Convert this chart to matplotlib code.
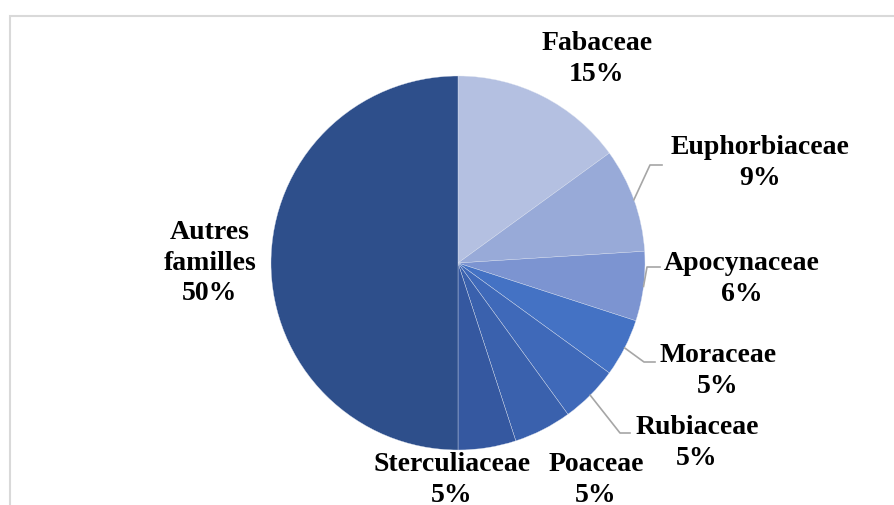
import numpy as np
import matplotlib.pyplot as plt
from matplotlib.patches import Rectangle

# families and their share of species (%)
familles = ["Fabaceae", "Euphorbiaceae", "Apocynaceae", "Moraceae",
            "Rubiaceae", "Poaceae", "Sterculiaceae", "Autres\nfamilles"]
parts = [15, 9, 6, 5, 5, 5, 5, 50]
couleurs = ["#B4C0E1", "#98AAD8", "#7C94D1", "#4472C4",
            "#3F69B9", "#3A61AD", "#3558A0", "#2E4F8B"]

W, H = 895, 505
cx, cy, R = 458, H - 263, 187

fig = plt.figure(figsize=(W / 100, H / 100), dpi=100)
ax = fig.add_axes([0, 0, 1, 1])
ax.axis("off")

# chart border (only top and left sides fall inside the image)
ax.add_patch(Rectangle((10, -20), W + 40, H - 16 + 20, fill=False,
                       edgecolor="#D9D9D9", linewidth=1.5))

wedges, _ = ax.pie(parts, colors=couleurs, startangle=90, counterclock=False,
                   center=(cx, cy), radius=R,
                   wedgeprops=dict(edgecolor="#DDE3F0", linewidth=0.25))
ax.set_xlim(0, W)
ax.set_ylim(0, H)
ax.set_aspect("auto")

# label positions (centre of each text block) and leader elbow points
pos_labels = [(597, 59), (760, 163), (742, 279), (718, 371),
              (697, 443), (596, 480), (452, 480), (210, 263)]
coudes = [None, (650, 165), (647, 267), (644, 362),
          (620, 433), None, None, None]
fins = [None, (662, 165), (660, 267), (655, 362),
        (630, 433), None, None, None]

for w, nom, p, (tx, ty), cd, fn in zip(wedges, familles, parts, pos_labels, coudes, fins):
    ax.text(tx, H - ty, f"{nom}\n{p}%", ha="center", va="center",
            family="Liberation Serif", fontweight="bold", fontsize=20,
            linespacing=1.3, color="black")
    if cd is not None:
        ang = np.deg2rad((w.theta1 + w.theta2) / 2)
        x0, y0 = cx + R * np.cos(ang), cy + R * np.sin(ang)
        ax.plot([x0, cd[0], fn[0]], [y0, H - cd[1], H - fn[1]],
                color="#A6A6A6", linewidth=1.2)

fig.savefig("out.png", dpi=100)
